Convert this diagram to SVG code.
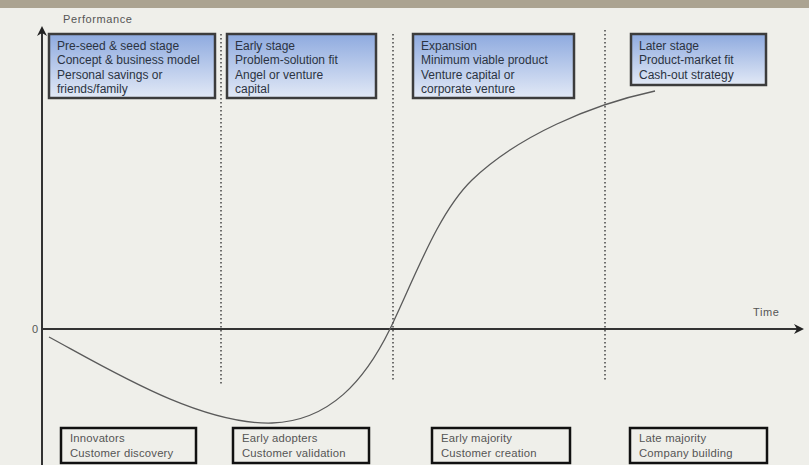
<svg xmlns="http://www.w3.org/2000/svg" width="809" height="465" viewBox="0 0 809 465">
  <defs>
    <linearGradient id="stageFill" x1="0" y1="0" x2="0" y2="1">
      <stop offset="0" stop-color="#8eaadf"/>
      <stop offset="1" stop-color="#e2e9f6"/>
    </linearGradient>
    <marker id="arrow" viewBox="0 0 10 10" refX="8" refY="5" markerWidth="5" markerHeight="5" orient="auto">
      <path d="M0,0 L10,5 L0,10 L3,5 Z" fill="#222"/>
    </marker>
    <style>
      .stage rect { fill: url(#stageFill); stroke: #3c3c3c; stroke-width: 2.5; }
      .stage text { font-family: "Liberation Sans", Arial, sans-serif; font-size: 12px; fill: #2b3342; }
      .adopt rect { fill: #efefea; stroke: #111; stroke-width: 2.5; }
      .adopt text { font-family: "Liberation Sans", Arial, sans-serif; font-size: 11.3px; letter-spacing: 0.2px; fill: #555; }
      .divider { stroke: #444; stroke-width: 1.5; stroke-dasharray: 1.5 2.5; }
      .axis { stroke: #333; stroke-width: 2; fill: none; }
      .label { font-family: "Liberation Sans", Arial, sans-serif; font-size: 11px; letter-spacing: 0.6px; fill: #555; }
    </style>
  </defs>

  <rect width="809" height="465" fill="#efefea"/>
  <rect width="809" height="8" fill="#aba391"/>

  <!-- phase dividers -->
  <g id="dividers">
    <line class="divider" x1="221" y1="34" x2="221" y2="384"/>
    <line class="divider" x1="393" y1="34" x2="393" y2="380"/>
    <line class="divider" x1="605" y1="30" x2="605" y2="380"/>
  </g>

  <!-- axes and curve -->
  <g id="connectors">
    <line class="axis" x1="42" y1="465" x2="42" y2="28" marker-end="url(#arrow)"/>
    <line class="axis" x1="42" y1="329" x2="802" y2="329" marker-end="url(#arrow)"/>
    <path d="M49,337 C110,370 200,425 272,423 C330,421 365,380 390,329 C415,277 438,213 472,180 C518,136 590,105 655,91" fill="none" stroke="#5a5a5a" stroke-width="1.3"/>
  </g>

  <text class="label" x="63" y="23">Performance</text>
  <text class="label" x="32" y="333">0</text>
  <text class="label" x="753" y="316">Time</text>

  <!-- funding stages -->
  <g id="stage-seed" class="stage">
    <rect x="49" y="34" width="166" height="64"/>
    <text x="57" y="49.5">Pre-seed &amp; seed stage</text>
    <text x="57" y="64">Concept &amp; business model</text>
    <text x="57" y="78.5">Personal savings or</text>
    <text x="57" y="93">friends/family</text>
  </g>
  <g id="stage-early" class="stage">
    <rect x="227" y="34" width="149" height="64"/>
    <text x="235" y="49.5">Early stage</text>
    <text x="235" y="64">Problem-solution fit</text>
    <text x="235" y="78.5">Angel or venture</text>
    <text x="235" y="93">capital</text>
  </g>
  <g id="stage-expansion" class="stage">
    <rect x="413" y="34" width="161" height="64"/>
    <text x="421" y="49.5">Expansion</text>
    <text x="421" y="64">Minimum viable product</text>
    <text x="421" y="78.5">Venture capital or</text>
    <text x="421" y="93">corporate venture</text>
  </g>
  <g id="stage-later" class="stage">
    <rect x="631" y="34" width="135" height="51"/>
    <text x="639" y="49.5">Later stage</text>
    <text x="639" y="64">Product-market fit</text>
    <text x="639" y="78.5">Cash-out strategy</text>
  </g>

  <!-- adopter segments -->
  <g id="seg-innovators" class="adopt">
    <rect x="61" y="428" width="135" height="35"/>
    <text x="70" y="442">Innovators</text>
    <text x="70" y="457">Customer discovery</text>
  </g>
  <g id="seg-early-adopters" class="adopt">
    <rect x="233" y="428" width="136" height="35"/>
    <text x="242" y="442">Early adopters</text>
    <text x="242" y="457">Customer validation</text>
  </g>
  <g id="seg-early-majority" class="adopt">
    <rect x="432" y="428" width="138" height="35"/>
    <text x="441" y="442">Early majority</text>
    <text x="441" y="457">Customer creation</text>
  </g>
  <g id="seg-late-majority" class="adopt">
    <rect x="630" y="428" width="137" height="35"/>
    <text x="639" y="442">Late majority</text>
    <text x="639" y="457">Company building</text>
  </g>
</svg>
